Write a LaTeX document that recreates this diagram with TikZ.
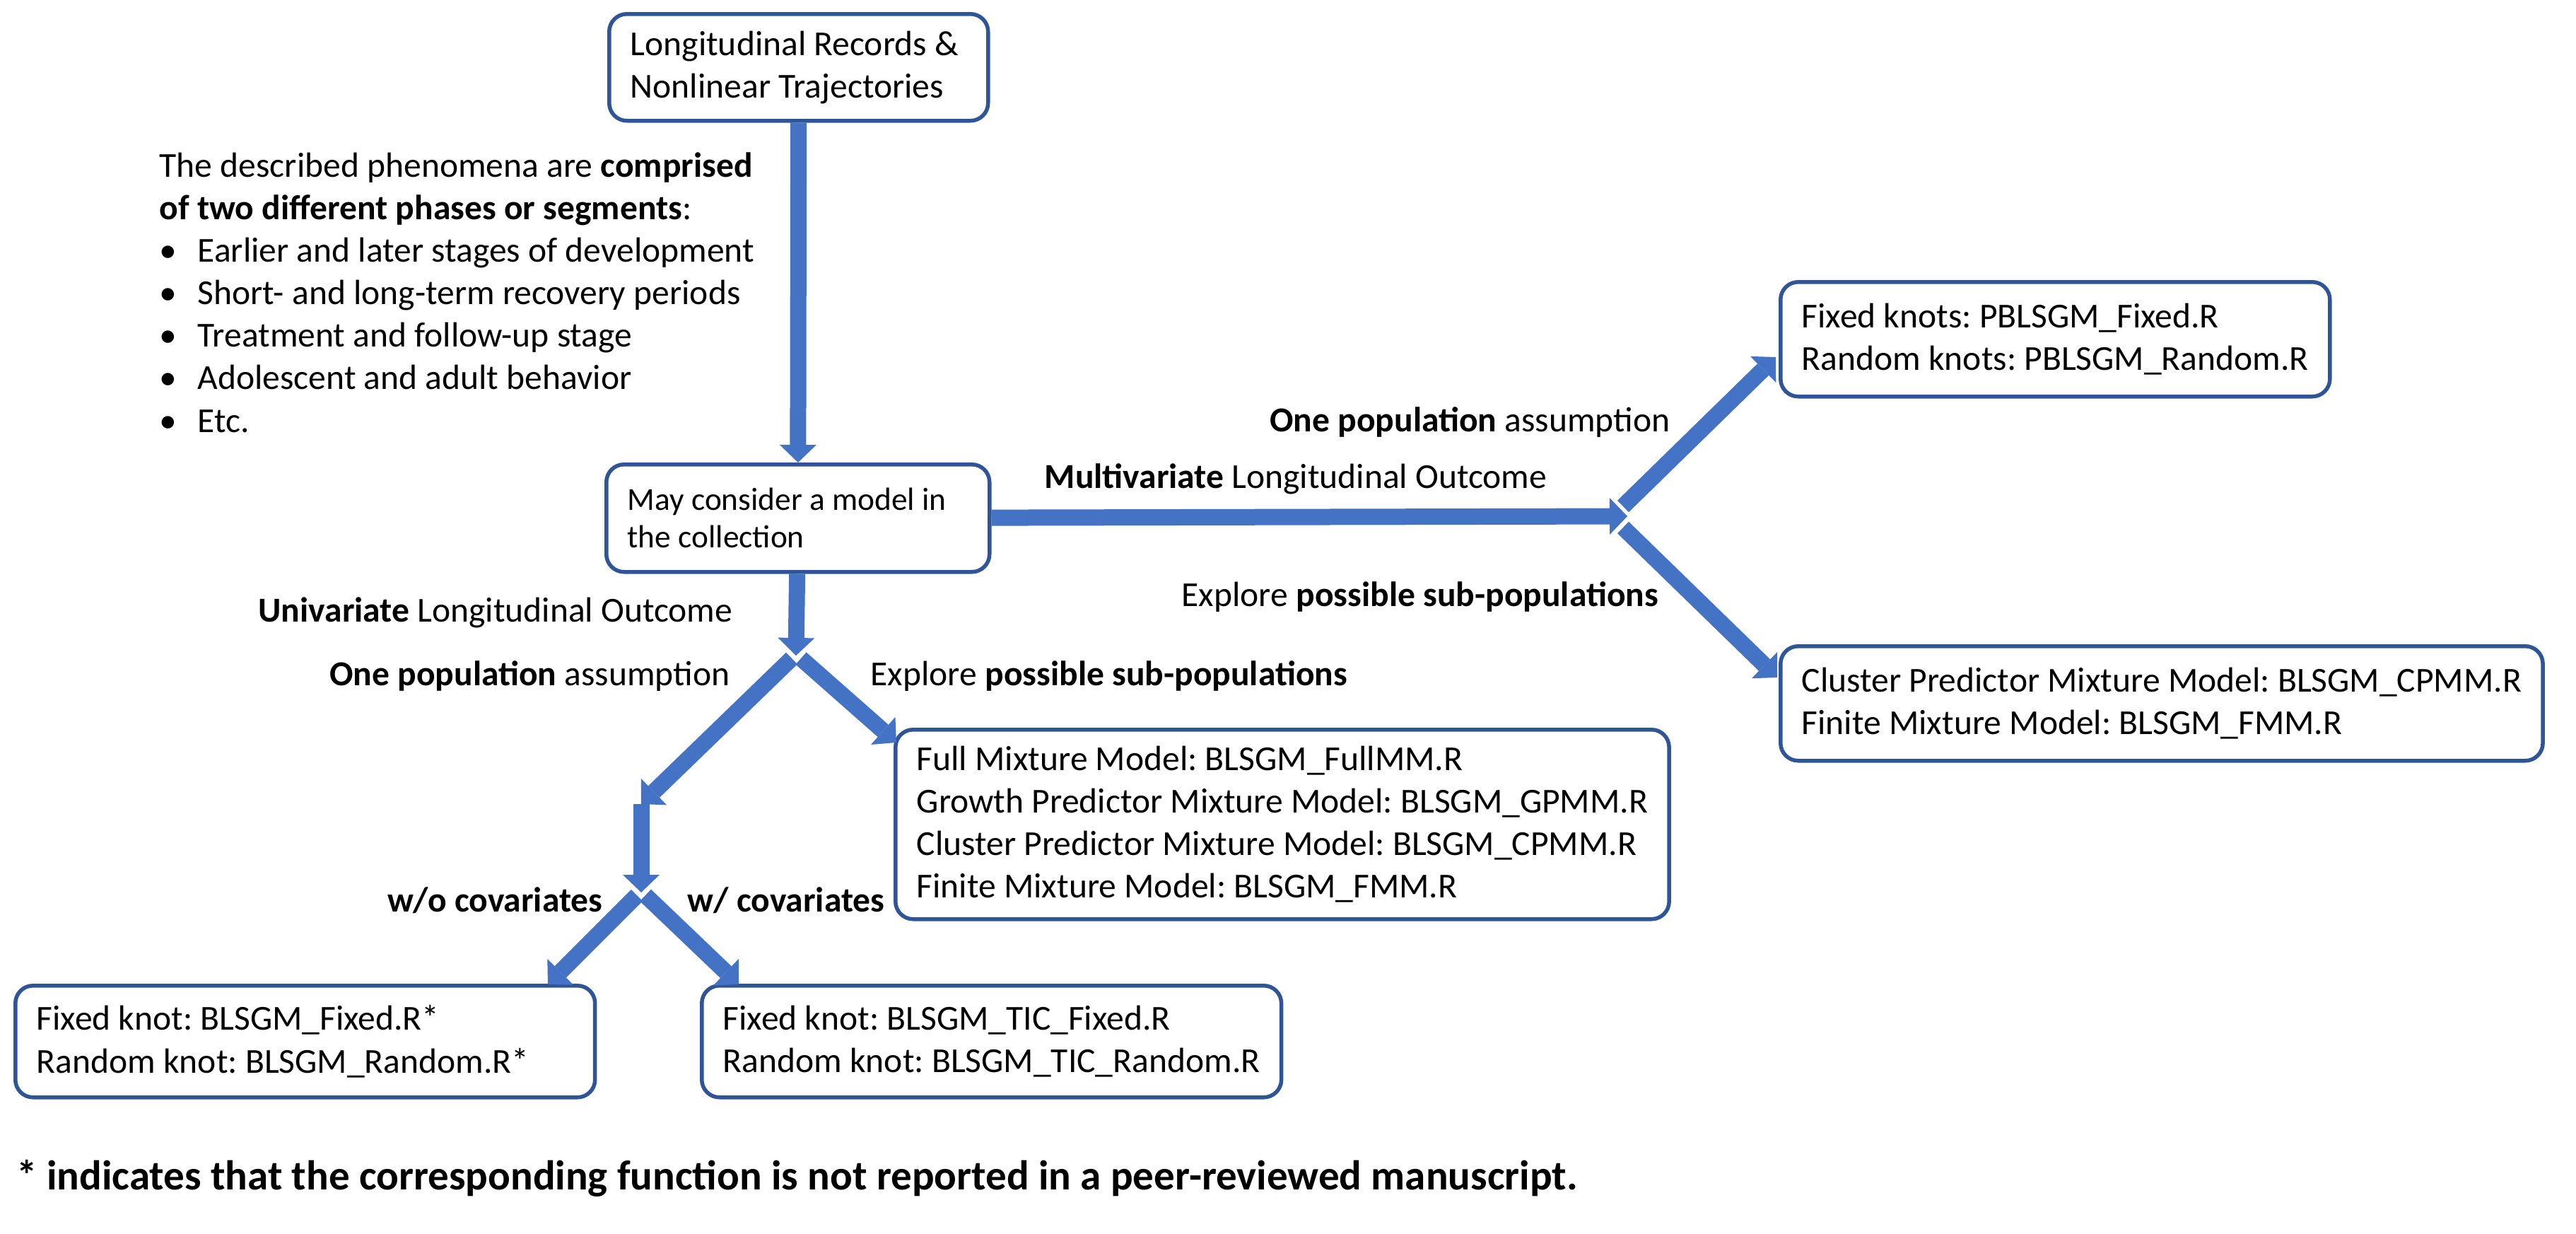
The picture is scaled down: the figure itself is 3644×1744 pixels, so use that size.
\documentclass[tikz,border=0pt]{standalone}
\usepackage{fontspec}
\setmainfont{Carlito}
\usepackage{tikz}
\usetikzlibrary{arrows.meta}
\frenchspacing
\definecolor{boxblue}{HTML}{2F5597}
\definecolor{arrowblue}{HTML}{4472C4}
\newcommand{\mainsize}{\fontsize{14.1pt}{17.1pt}\selectfont}
\newcommand{\smallsize}{\fontsize{12.9pt}{15.1pt}\selectfont}
\newcommand{\notesize}{\fontsize{16.8pt}{20pt}\selectfont}
\tikzstyle{block}=[
   rectangle,
   rounded corners=2.5mm,
   line width=0.55mm,
   draw=boxblue,
   align=flush left,
   anchor=north west,
   inner xsep=3mm,
   inner ysep=0pt,
   font=\mainsize
]
\tikzstyle{lbl}=[inner sep=0pt, font=\mainsize]
\tikzstyle{fat}=[draw=arrowblue, line width=2.3mm, -{Triangle[width=5.2mm,length=2.5mm,line width=0pt]}]

\begin{document}
\begin{tikzpicture}[x=0.1mm,y=-0.1mm]
  \useasboundingbox (0,0) rectangle (3644,1744);

  \node[block,text width=47.6mm,minimum height=15.1mm] (rec) at (859,17) {Longitudinal Records \&\\Nonlinear Trajectories};
  \node[lbl,anchor=north west,align=left] (phen) at (225,215) {The described phenomena are \textbf{comprised}\\
    \textbf{of two different phases or segments}:\\
    \makebox[5.4mm][l]{\textbullet}Earlier and later stages of development\\
    \makebox[5.4mm][l]{\textbullet}Short- and long-term recovery periods\\
    \makebox[5.4mm][l]{\textbullet}Treatment and follow-up stage\\
    \makebox[5.4mm][l]{\textbullet}Adolescent and adult behavior\\
    \makebox[5.4mm][l]{\textbullet}Etc.};
  \node[block,text width=48.2mm,minimum height=15.2mm,font=\smallsize] (mdl) at (855,654) {May consider a model in\\the collection};

  \node[block,minimum height=16.2mm] (pfix) at (2516,396) {Fixed knots: PBLSGM\_Fixed.R\\Random knots: PBLSGM\_Random.R};
  \node[block,minimum height=16.2mm] (pmix) at (2516,911) {Cluster Predictor Mixture Model: BLSGM\_CPMM.R\\Finite Mixture Model: BLSGM\_FMM.R};
  \node[block,minimum height=26.8mm] (umix) at (1264,1029) {Full Mixture Model: BLSGM\_FullMM.R\\Growth Predictor Mixture Model: BLSGM\_GPMM.R\\Cluster Predictor Mixture Model: BLSGM\_CPMM.R\\Finite Mixture Model: BLSGM\_FMM.R};
  \node[block,text width=76mm,minimum height=15.8mm] (nocov) at (19,1391) {Fixed knot: BLSGM\_Fixed.R*\\Random knot: BLSGM\_Random.R*};
  \node[block,minimum height=15.8mm] (tic) at (990,1391) {Fixed knot: BLSGM\_TIC\_Fixed.R\\Random knot: BLSGM\_TIC\_Random.R};

  \node[lbl,anchor=west] (multi) at (1477,677) {\textbf{Multivariate} Longitudinal Outcome};
  \node[lbl,anchor=east] (mone) at (2363,597) {\textbf{One population} assumption};
  \node[lbl,anchor=west] (msub) at (1671,844) {Explore \textbf{possible sub-populations}};
  \node[lbl,anchor=east] (uni) at (1037,866) {\textbf{Univariate} Longitudinal Outcome};
  \node[lbl,anchor=east] (uone) at (1033,956) {\textbf{One population} assumption};
  \node[lbl,anchor=west] (usub) at (1231,956) {Explore \textbf{possible sub-populations}};
  \node[lbl,anchor=east] (wo) at (853,1273) {\textbf{w/o covariates}};
  \node[lbl,anchor=west] (wc) at (972,1273) {\textbf{w/ covariates}};
  \node[lbl,anchor=west,font=\notesize] (note) at (23,1666) {\textbf{* indicates that the corresponding function is not reported in a peer-reviewed manuscript.}};

  \coordinate (mjoin)  at (2302,730);
  \coordinate (mup)    at (2296,716);
  \coordinate (mdown)  at (2296,746);
  \coordinate (ptip)   at (2512,505);
  \coordinate (qtip)   at (2514,958);
  \coordinate (ujoin)  at (1126,927);
  \coordinate (uleft)  at (1120,931);
  \coordinate (uright) at (1133,931);
  \coordinate (ljoin)  at (907,1137);
  \coordinate (mtip)   at (1268,1050);
  \coordinate (cjoin)  at (907,1262);
  \coordinate (cleft)  at (901,1266);
  \coordinate (cright) at (913,1266);
  \coordinate (otip)   at (775,1392);
  \coordinate (ttip)   at (1045,1392);

  \path (rec) edge[fat] (mdl)
        (mdl) edge[fat] (mjoin)
        (mdl) edge[fat] (ujoin);

  \path (mup)   edge[fat] (ptip)
        (mdown) edge[fat] (qtip);

  \path (uleft)  edge[fat] (ljoin)
        (uright) edge[fat] (mtip)
        (ljoin)  edge[fat] (cjoin);

  \path (cleft)  edge[fat] (otip)
        (cright) edge[fat] (ttip);

\end{tikzpicture}
\end{document}
